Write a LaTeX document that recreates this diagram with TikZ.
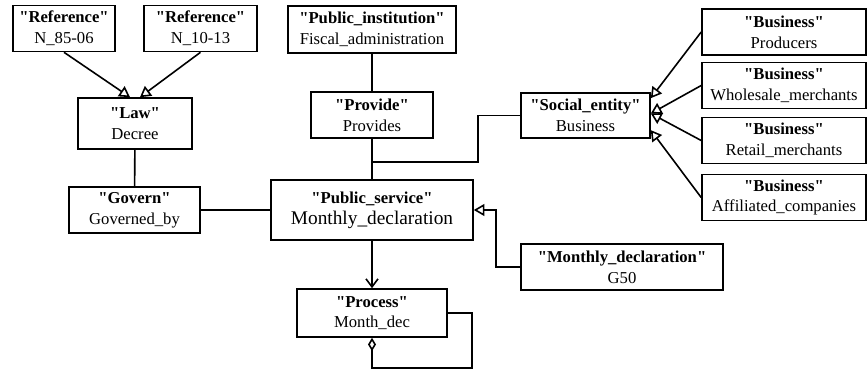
\documentclass[tikz,border=0pt]{standalone}
\usepackage{fontspec}
\setmainfont{Liberation Serif}[Ligatures=TeXOff]
\usetikzlibrary{arrows.meta}
\tikzset{
	cls/.style={draw, align=center, inner sep=0pt, minimum height=34.5pt, font=\fontsize{12.5}{15.5}\selectfont},
	gen/.style={-{Triangle[open,length=8pt,width=9pt]}},
	agg/.style={-{Diamond[open,length=10pt,width=6pt]}},
	nav/.style={-{Straight Barb[length=6pt,width=9pt]}},
}
\begin{document}
\begin{tikzpicture}[x=0.75pt,y=-0.75pt,line width=1.2pt]
	\useasboundingbox (0,0) rectangle (867,370);
	\node[cls, minimum width=76.5pt] (ref1) at (64,28.5) {\textbf{"Reference"}\\N\_85-06};
	\node[cls, minimum width=84.75pt] (ref2) at (200.5,28.5) {\textbf{"Reference"}\\N\_10-13};
	\node[cls, minimum width=85.5pt, minimum height=38.25pt] (law) at (135,123.5) {\textbf{"Law"}\\Decree};
	\node[cls, minimum width=98.25pt] (govern) at (134.5,210) {\textbf{"Govern"}\\Governed\_by};
	\node[cls, minimum width=126pt, minimum height=35.25pt] (pubinst) at (372,29.5) {\textbf{"Public\_institution"}\\Fiscal\_administration};
	\node[cls, minimum width=91.5pt] (provide) at (372,115) {\textbf{"Provide"}\\Provides};
	\node[cls, minimum width=151.5pt, minimum height=45pt] (pubserv) at (372,210) {\textbf{"Public\_service"}\\{\fontsize{14.5}{18}\selectfont Monthly\_declaration}};
	\node[cls, minimum width=112.5pt, minimum height=36pt] (proc) at (372,313) {\textbf{"Process"}\\Month\_dec};
	\node[cls, minimum width=96.75pt, minimum height=33.75pt] (social) at (585.5,115.5) {\textbf{"Social\_entity"}\\Business};
	\node[cls, minimum width=123pt] (prod) at (784,32) {\textbf{"Business"}\\Producers};
	\node[cls, minimum width=123pt] (whole) at (784,85.5) {\textbf{"Business"}\\Wholesale\_merchants};
	\node[cls, minimum width=123pt] (retail) at (784,140.5) {\textbf{"Business"}\\Retail\_merchants};
	\node[cls, minimum width=123pt] (affil) at (784,197.5) {\textbf{"Business"}\\Affiliated\_companies};
	\node[cls, minimum width=151.5pt] (g50) at (622,267) {\textbf{"Monthly\_declaration"}\\G50};
	\coordinate (jn) at (372,162);
	\draw[gen] (ref1.south) -- ([xshift=-3.75pt]law.north);
	\draw[gen] (ref2.south) -- ([xshift=3.75pt]law.north);
	\draw (law) -- (govern);
	\draw (govern) -- (pubserv);
	\draw (pubinst) -- (provide);
	\draw (provide) -- (pubserv);
	\draw (jn) -- ++(106,0) |- (social.west);
	\draw[gen] (prod.west) -- ([yshift=13pt]social.east);
	\draw[gen] (whole.west) -- ([yshift=1.5pt]social.east);
	\draw[gen] (retail.west) -- ([yshift=1.5pt]social.east);
	\draw[gen] (affil.west) -- ([yshift=-11pt]social.east);
	\draw[gen] (g50.west) -- ++(-24,0) |- (pubserv.east);
	\draw[nav] (pubserv) -- (proc);
	\draw[agg] (proc.east) -- ++(24,0) -- ++(0,55) -| (proc.south);
\end{tikzpicture}
\end{document}
